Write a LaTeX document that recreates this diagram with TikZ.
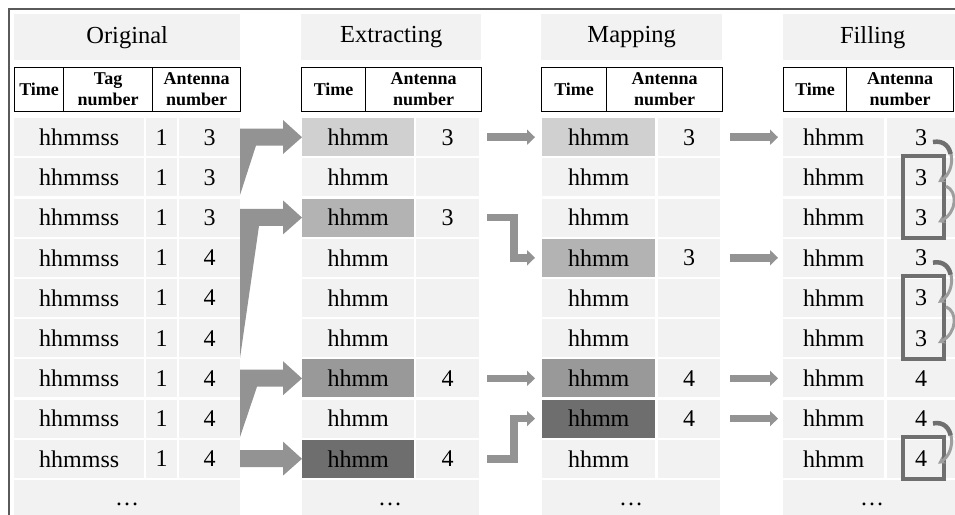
\documentclass[tikz,border=0pt]{standalone}
\usepackage{fontspec}
\setmainfont{Liberation Serif}
\usetikzlibrary{arrows.meta}
\definecolor{cellgray}{HTML}{F2F2F2}
\definecolor{hlA}{HTML}{D0D0D0}
\definecolor{hlB}{HTML}{B3B3B3}
\definecolor{hlC}{HTML}{999999}
\definecolor{hlD}{HTML}{6E6E6E}
\definecolor{arrowgray}{HTML}{939393}
\definecolor{boxgray}{HTML}{6F6F6F}
\definecolor{framegray}{HTML}{5A5A5A}
\tikzset{
  cell/.style={fill=cellgray, inner sep=0pt, minimum height=38pt, anchor=north west,
    font=\fontsize{24}{28}\selectfont},
  titlebox/.style={fill=cellgray, inner sep=0pt, minimum height=46pt, anchor=north west,
    font=\fontsize{24.5}{28}\selectfont},
  headcell/.style={draw=black, line width=1.2pt, fill=white, inner sep=0pt, minimum height=44pt,
    anchor=north west, align=center, font=\bfseries\fontsize{18}{21}\selectfont},
  dotstext/.style={inner sep=0pt, font=\fontsize{24}{28}\selectfont},
  bigarrow/.style={fill=arrowgray},
  smallarrow/.style={draw=arrowgray, line width=7.5pt, -{Triangle[length=8pt,width=15pt]}},
  fillbox/.style={draw=boxgray, line width=4pt},
  curvelight/.style={draw=arrowgray!90, line width=3pt, -{Stealth[length=7pt,width=8pt]}},
  curvedark/.style={draw=boxgray, line width=4.5pt, dash pattern=on 24pt off 300pt},
}
\begin{document}
\begin{tikzpicture}[x=1pt,y=-1pt]
\useasboundingbox (0,0) rectangle (955,514);
\clip (0,0) rectangle (955,514);
\fill[white] (0,0) rectangle (955,514);
\draw[framegray, line width=1.5pt] (9,9) rectangle (1000,560);

% titles
\node[titlebox, minimum width=226pt] (tO) at (14,14) {Original};
\node[titlebox, minimum width=180pt] (tE) at (301,14) {Extracting};
\node[titlebox, minimum width=181pt] (tM) at (541,14) {Mapping};
\node[titlebox, minimum width=179pt] (tF) at (783,14) {Filling};

% table headers
\node[headcell, minimum width=49pt] (hO1) at (14,67) {Time};
\node[headcell, minimum width=89pt] (hO2) at (63,67) {Tag\\number};
\node[headcell, minimum width=88pt] (hO3) at (152,67) {Antenna\\number};
\node[headcell, minimum width=64pt] (hE1) at (301,67) {Time};
\node[headcell, minimum width=116pt] (hE2) at (365,67) {Antenna\\number};
\node[headcell, minimum width=65pt] (hM1) at (541,67) {Time};
\node[headcell, minimum width=116pt] (hM2) at (606,67) {Antenna\\number};
\node[headcell, minimum width=63pt] (hF1) at (783,67) {Time};
\node[headcell, minimum width=107pt] (hF2) at (846,67) {Antenna\\number};

% data rows
\foreach \i/\an/\ef/\en/\mf/\mn/\fn in {
0/3/hlA/3/hlA/3/3,
1/3/cellgray//cellgray//3,
2/3/hlB/3/cellgray//3,
3/4/cellgray//hlB/3/3,
4/4/cellgray//cellgray//3,
5/4/cellgray//cellgray//3,
6/4/hlC/4/hlC/4/4,
7/4/cellgray//hlD/4/4,
8/4/hlD/4/cellgray//4}
{
  \pgfmathsetmacro\ty{118+40.2*\i}
  \node[cell, minimum width=130pt] (ot\i) at (14,\ty) {hhmmss};
  \node[cell, minimum width=31pt] (og\i) at (146,\ty) {1};
  \node[cell, minimum width=61pt] (oa\i) at (179,\ty) {\an};
  \node[cell, minimum width=112pt, fill=\ef] (et\i) at (302,\ty) {hhmm};
  \node[cell, minimum width=63pt] (ea\i) at (416,\ty) {\en};
  \node[cell, minimum width=113pt, fill=\mf] (mt\i) at (542,\ty) {hhmm};
  \node[cell, minimum width=62pt] (ma\i) at (658,\ty) {\mn};
  \node[cell, minimum width=101pt] (ft\i) at (783,\ty) {hhmm};
  \node[cell, minimum width=68pt] (fa\i) at (887,\ty) {\fn};
}

% dots row
\node[cell, minimum width=226pt] (od) at (14,479.8) {};
\node[cell, minimum width=177pt] (ed) at (302,479.8) {};
\node[cell, minimum width=178pt] (md) at (542,479.8) {};
\node[cell, minimum width=180pt] (fd) at (783,479.8) {};
\node[dotstext] (odt) at (127,504) {\textellipsis};
\node[dotstext] (edt) at (390,504) {\textellipsis};
\node[dotstext] (mdt) at (631,504) {\textellipsis};
\node[dotstext] (fdt) at (872,504) {\textellipsis};

% big arrows Original -> Extracting
\fill[bigarrow] (240,128.5) -- (283,128.5) -- (283,120) -- (et0.west) -- (283,154) -- (283,145.5)
  -- (256,145.5) -- (240,195) -- cycle;
\fill[bigarrow] (240,208.9) -- (283,208.9) -- (283,200.4) -- (et2.west) -- (283,234.4) -- (283,225.9)
  -- (259,225.9) -- (240,358) -- cycle;
\fill[bigarrow] (240,369.7) -- (283,369.7) -- (283,361.2) -- (et6.west) -- (283,395.2) -- (283,386.7)
  -- (257,386.7) -- (240,437) -- cycle;
\fill[bigarrow] (240,450.1) -- (283,450.1) -- (283,441.6) -- (et8.west) -- (283,475.6) -- (283,467.1)
  -- (240,467.1) -- cycle;

% small arrows Extracting -> Mapping
\draw[smallarrow, shorten >=7pt] ([xshift=8pt]ea0.east) -- (mt0.west);
\draw[smallarrow, shorten >=7pt] ([xshift=8pt]ea2.east) -- ++(26.5,0) |- (mt3.west);
\draw[smallarrow, shorten >=7pt] ([xshift=8pt]ea6.east) -- (mt6.west);
\draw[smallarrow, shorten >=7pt] ([xshift=8pt]ea8.east) -- ++(26.5,0) |- (mt7.west);

% small arrows Mapping -> Filling
\draw[smallarrow, shorten >=5pt] ([xshift=10pt]ma0.east) -- (ft0.west);
\draw[smallarrow, shorten >=5pt] ([xshift=10pt]ma3.east) -- (ft3.west);
\draw[smallarrow, shorten >=5pt] ([xshift=10pt]ma6.east) -- (ft6.west);
\draw[smallarrow, shorten >=5pt] ([xshift=10pt]ma7.east) -- (ft7.west);

% boxes in Filling
\draw[fillbox] (903,155.5) rectangle (944,238);
\draw[fillbox] (903,276) rectangle (944,359);
\draw[fillbox] (903,437) rectangle (944,479);

% curved arrows in Filling
\foreach \a/\b/\k in {0/1/1, 3/4/1, 7/8/1, 1/2/0, 4/5/0}{
  \pgfmathsetmacro\ya{137+40.2*\a}
  \pgfmathsetmacro\yb{137+40.2*\b}
  \ifnum\k=1
    \draw[curvelight] (933,\ya+5) .. controls (955,\ya+1) and (957,\yb-7) .. (938,\yb+5);
    \draw[curvedark] (933,\ya+5) .. controls (955,\ya+1) and (957,\yb-7) .. (938,\yb+5);
  \else
    \draw[curvelight] (946,\ya+9) .. controls (958,\ya+14) and (957,\yb-5) .. (938,\yb+5);
  \fi
}
\end{tikzpicture}
\end{document}
